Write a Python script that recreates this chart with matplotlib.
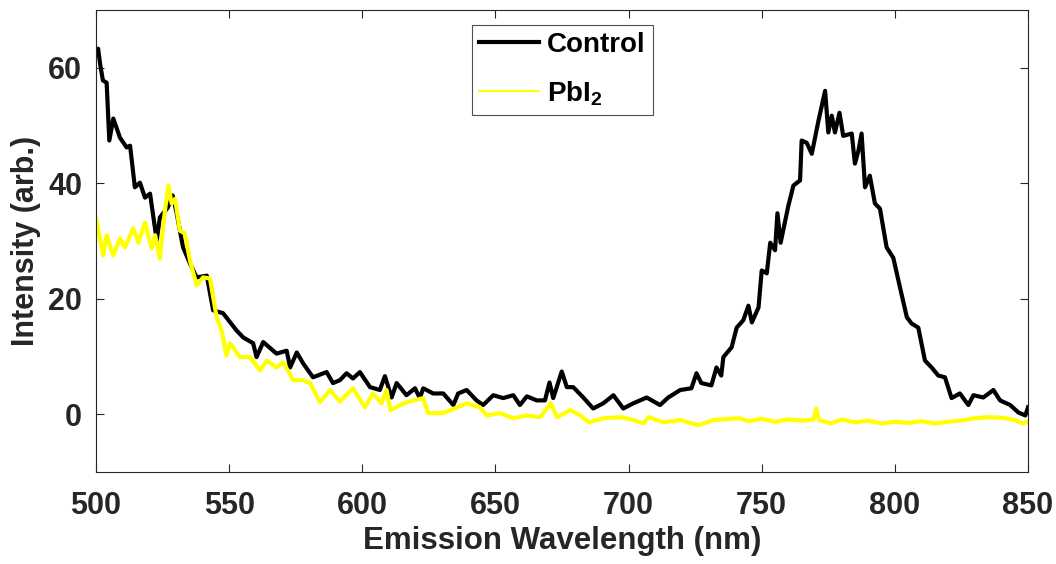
import matplotlib.pyplot as plt
from matplotlib.lines import Line2D

# Control spectrum (wavelength nm, intensity)
control_wl = [500.0, 500.8, 501.6, 502.6, 504.0, 505.0, 506.5, 509.0, 511.5, 512.8,
              514.6, 516.5, 518.4, 520.3, 522.8, 524.0, 527.0, 528.8, 530.3, 532.7,
              535.3, 537.8, 541.6, 544.0, 547.7, 552.8, 555.3, 559.0, 560.3, 562.8,
              567.8, 571.6, 572.9, 575.4, 577.8, 581.5, 586.6, 589.0, 591.6, 594.1,
              596.5, 599.1, 602.9, 606.6, 608.5, 611.0, 612.9, 616.6, 619.8, 621.6,
              622.9, 626.6, 630.4, 634.2, 636.0, 639.2, 642.9, 645.4, 649.2, 652.9,
              656.7, 659.2, 661.8, 665.5, 668.6, 670.3, 671.7, 674.9, 676.8, 679.2,
              683.0, 686.7, 690.5, 694.3, 698.0, 701.8, 706.8, 711.8, 714.9, 719.4,
              723.6, 725.5, 727.3, 731.1, 733.0, 734.8, 735.6, 738.7, 740.6, 743.1,
              745.0, 746.3, 748.8, 750.0, 751.9, 753.2, 755.0, 755.9, 757.1, 760.0,
              761.9, 764.4, 765.0, 766.9, 768.8, 771.3, 773.8, 775.0, 776.3, 777.5,
              779.2, 780.6, 783.8, 785.0, 786.3, 787.5, 788.8, 790.6, 792.5, 794.4,
              796.9, 799.4, 801.9, 804.5, 806.3, 808.8, 811.3, 813.8, 816.3, 818.8,
              821.3, 824.4, 827.6, 829.5, 833.2, 837.0, 839.5, 843.3, 846.4, 849.0,
              850.0]
control_int = [62.9, 63.3, 60.5, 57.8, 57.4, 47.4, 51.2, 47.9, 46.2, 46.5,
               39.3, 40.1, 37.5, 38.2, 30.1, 34.1, 35.8, 37.9, 34.8, 28.9,
               26.1, 23.7, 24.0, 18.0, 17.5, 14.5, 13.3, 12.3, 9.9, 12.5,
               10.5, 11.0, 8.1, 10.7, 8.8, 6.4, 7.3, 5.4, 5.9, 7.1,
               6.2, 7.3, 4.7, 4.2, 6.6, 2.9, 5.4, 3.3, 4.5, 2.8,
               4.5, 3.6, 3.6, 1.6, 3.6, 4.2, 2.4, 1.6, 3.3, 2.8,
               3.3, 1.6, 3.1, 2.4, 2.4, 5.5, 2.8, 7.4, 4.7, 4.7,
               2.9, 1.0, 1.9, 3.3, 1.0, 1.9, 2.9, 1.6, 2.9, 4.2,
               4.5, 7.1, 5.4, 5.0, 8.1, 6.7, 9.9, 11.6, 15.0, 16.3,
               18.8, 15.9, 18.5, 24.9, 24.4, 29.7, 28.4, 34.8, 29.7, 36.1,
               39.6, 40.5, 47.4, 47.0, 45.1, 50.8, 56.0, 48.8, 51.7, 48.8,
               52.2, 48.2, 48.6, 43.4, 45.6, 48.6, 39.3, 41.3, 36.5, 35.6,
               28.9, 27.1, 22.0, 16.8, 15.7, 15.0, 9.3, 8.1, 6.7, 6.4,
               2.8, 3.6, 1.6, 3.3, 2.9, 4.2, 2.4, 1.6, 0.3, -0.2,
               1.2]

# PbI2 spectrum
pbi2_wl = [500.0, 502.7, 504.0, 506.5, 509.0, 510.9, 514.0, 515.9, 518.4, 520.9,
           522.2, 524.0, 525.9, 527.2, 528.4, 529.7, 531.5, 533.4, 535.3, 537.8,
           540.2, 542.8, 545.3, 547.2, 549.0, 550.3, 554.0, 557.8, 561.6, 564.1,
           567.8, 570.3, 574.1, 577.8, 580.4, 584.1, 587.9, 591.6, 596.5, 601.0,
           604.0, 607.2, 609.1, 610.6, 615.4, 622.9, 624.7, 630.4, 639.2, 644.2,
           646.7, 651.7, 656.7, 661.8, 666.8, 670.8, 673.1, 678.1, 681.9, 685.0,
           690.6, 696.9, 701.9, 705.6, 707.5, 713.1, 719.4, 726.3, 731.9, 741.8,
           745.0, 750.0, 755.0, 760.0, 765.0, 769.5, 770.5, 771.5, 776.0, 780.0,
           785.0, 790.0, 795.0, 800.0, 805.0, 810.0, 815.0, 820.0, 825.0, 830.0,
           835.0, 840.0, 845.0, 848.0, 850.0]
pbi2_int = [33.9, 27.5, 31.0, 27.5, 30.4, 28.9, 32.2, 29.7, 33.2, 28.7,
            31.0, 27.0, 35.3, 39.6, 36.5, 37.3, 31.8, 31.3, 26.6, 22.3,
            23.7, 23.5, 16.8, 14.5, 10.2, 12.3, 9.9, 9.9, 7.6, 9.3,
            8.1, 9.0, 5.9, 5.9, 5.4, 2.1, 4.2, 2.2, 4.5, 1.2,
            3.6, 1.9, 4.2, 0.7, 1.9, 2.8, 0.2, 0.2, 1.9, 1.2,
            -0.2, 0.2, -0.7, -0.2, -0.5, 1.9, -0.5, 0.7, -0.2, -1.4,
            -0.7, -0.5, -1.0, -1.6, -0.5, -1.4, -1.0, -1.9, -1.0, -0.7,
            -1.2, -0.8, -1.3, -0.9, -1.1, -0.9, 1.0, -1.0, -1.6, -0.9,
            -1.4, -1.1, -1.6, -1.3, -1.5, -1.2, -1.6, -1.3, -1.1, -0.7,
            -0.5, -0.6, -1.0, -1.6, -1.3]

plt.rcParams['font.family'] = ['Liberation Sans', 'DejaVu Sans']
plt.rcParams['font.weight'] = 'bold'
plt.rcParams['mathtext.fontset'] = 'custom'
plt.rcParams['mathtext.bf'] = 'Liberation Sans:bold'
plt.rcParams['mathtext.rm'] = 'Liberation Sans:bold'

fig = plt.figure(figsize=(10.56, 5.64), dpi=100)
ax = fig.add_axes([0.0909, 0.1631, 0.8826, 0.8192])

ax.plot(control_wl, control_int, color='black', lw=3.0)
ax.plot(pbi2_wl, pbi2_int, color='#ffff00', lw=3.0)

ax.set_xlim(500, 850)
ax.set_ylim(-10, 70)
ax.set_xticks([500, 550, 600, 650, 700, 750, 800, 850])
ax.set_yticks([0, 20, 40, 60])
ax.tick_params(direction='in', top=True, right=True, labelsize=22, length=6,
               width=0.8, color='#262626', labelcolor='#262626')
ax.tick_params(axis='x', pad=14)
ax.tick_params(axis='y', pad=10)
for s in ax.spines.values():
    s.set_color('#262626')
    s.set_linewidth(0.8)

ax.set_xlabel('Emission Wavelength (nm)', fontsize=22.5, fontweight='bold', color='#262626', labelpad=3)
ax.set_ylabel('Intensity (arb.)', fontsize=22, fontweight='bold', color='#262626', labelpad=5)

handles = [Line2D([], [], color='black', lw=3.0),
           Line2D([], [], color='#ffff00', lw=1.5)]
leg = ax.legend(handles, ['Control', r'PbI$_\mathbf{2}$'], loc='upper left',
                bbox_to_anchor=(0.4034, 0.9675), fontsize=20, frameon=True, fancybox=False,
                edgecolor='#262626', handlelength=2.15, borderpad=0.25, labelspacing=0.75,
                handletextpad=0.3, borderaxespad=0)
leg.get_frame().set_linewidth(0.8)

fig.savefig('out.png', dpi=100)
